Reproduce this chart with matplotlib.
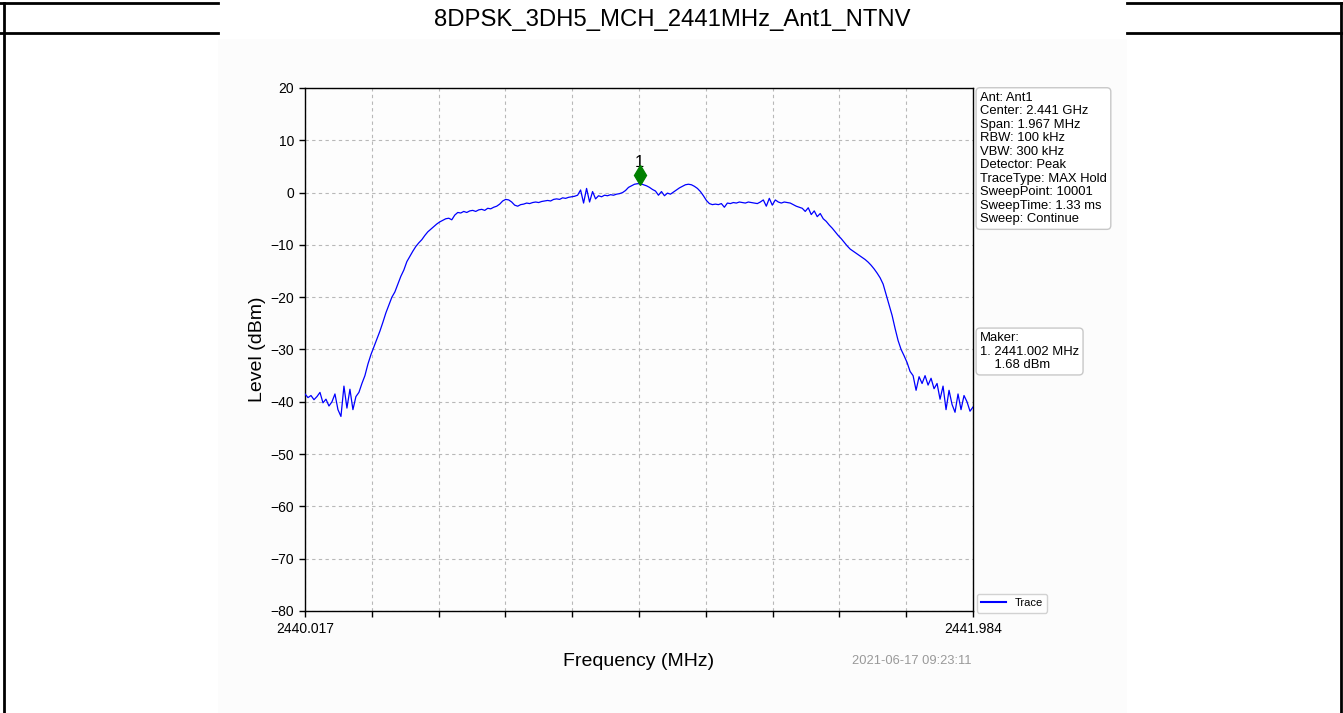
import numpy as np
import matplotlib
matplotlib.use("Agg")
import matplotlib.pyplot as plt
from matplotlib.lines import Line2D
from matplotlib.patches import Rectangle
import matplotlib.transforms as mtransforms

plt.rcParams['font.family'] = ['Liberation Sans', 'DejaVu Sans']

# ---------------- data ----------------
title = "8DPSK_3DH5_MCH_2441MHz_Ant1_NTNV"
f_start = 2440.017
f_stop = 2441.984
level_dbm = [
    -38.5, -39.2, -38.8, -39.6, -39.0, -38.2, -40.2, -39.5, -40.8, -40.0,
    -38.5, -41.5, -42.8, -37.0, -41.2, -37.6, -41.5, -39.0, -38.2, -36.5,
    -35.0, -32.8, -31.0, -29.5, -28.0, -26.5, -24.8, -23.0, -21.5, -20.0,
    -19.0, -17.5, -16.0, -14.8, -13.2, -12.2, -11.2, -10.3, -9.6, -9.0,
    -8.2, -7.5, -7.0, -6.5, -6.0, -5.6, -5.3, -5.0, -4.9, -5.2,
    -4.3, -3.8, -3.9, -3.6, -3.8, -3.5, -3.4, -3.6, -3.3, -3.2,
    -3.4, -3.0, -3.1, -2.8, -2.6, -2.2, -1.6, -1.3, -1.4, -1.8,
    -2.4, -2.6, -2.3, -2.2, -2.0, -2.1, -1.9, -1.8, -1.9, -1.7,
    -1.6, -1.5, -1.6, -1.3, -1.2, -1.3, -1.0, -1.1, -0.9, -0.8,
    -0.7, -0.5, 0.5, -2.0, 0.8, -1.8, 0.2, -1.2, -0.6, -0.8,
    -0.5, -0.6, -0.4, -0.5, -0.3, -0.2, 0.0, 0.4, 1.0, 1.3,
    1.6, 1.7, 1.7, 1.5, 1.3, 1.0, 0.6, 0.3, -0.5, 0.2,
    -0.6, -0.1, -0.3, 0.1, 0.5, 0.9, 1.2, 1.5, 1.6, 1.5,
    1.2, 0.8, 0.2, -0.6, -1.5, -2.1, -2.3, -2.2, -2.3, -2.1,
    -2.8, -2.0, -2.1, -1.9, -2.0, -1.8, -1.9, -2.0, -1.8, -1.9,
    -2.0, -2.1, -1.8, -1.4, -2.6, -1.1, -2.4, -1.4, -1.8, -2.0,
    -1.8, -1.9, -2.0, -2.3, -2.6, -2.8, -3.0, -3.6, -2.9, -4.2,
    -3.5, -4.6, -4.0, -5.0, -5.5, -6.2, -6.8, -7.5, -8.2, -8.8,
    -9.5, -10.2, -10.8, -11.2, -11.6, -12.0, -12.4, -12.8, -13.3, -13.9,
    -14.6, -15.4, -16.3, -17.5, -19.5, -21.5, -23.5, -26.0, -28.3, -30.0,
    -31.2, -32.5, -34.2, -35.0, -37.8, -35.2, -36.5, -35.0, -36.8, -35.5,
    -37.5, -36.5, -39.5, -37.0, -41.5, -37.8, -40.5, -42.0, -38.5, -41.5,
    -38.8, -40.0, -41.8, -41.0,
]
freq_mhz = np.linspace(f_start, f_stop, len(level_dbm))  # uniform sweep grid

marker_freq = 2441.002
marker_level = 1.68
info_lines = [
    "Ant: Ant1",
    "Center: 2.441 GHz",
    "Span: 1.967 MHz",
    "RBW: 100 kHz",
    "VBW: 300 kHz",
    "Detector: Peak",
    "TraceType: MAX Hold",
    "SweepPoint: 10001",
    "SweepTime: 1.33 ms",
    "Sweep: Continue",
]
maker_lines = ["Maker:", "1. 2441.002 MHz", "    1.68 dBm"]
timestamp = "2021-06-17 09:23:11"
y_ticks = list(range(-80, 21, 10))

# ---------------- figure ----------------
W, H = 1343, 713
fig = plt.figure(figsize=(W / 100, H / 100), dpi=100)
fig.patch.set_facecolor('white')

def fx(px):
    return px / W

def fy(py):
    return 1 - py / H

# inner chart image background
fig.add_artist(Rectangle((fx(218), 0), fx(1127) - fx(218), fy(39), transform=fig.transFigure,
                         facecolor='#fcfcfc', edgecolor='none', zorder=0))

# page table borders
lw = 2.0
for y in (3, 33):
    fig.add_artist(Line2D([0, fx(218)], [fy(y), fy(y)], transform=fig.transFigure, color='black', lw=lw))
    fig.add_artist(Line2D([fx(1127), 1], [fy(y), fy(y)], transform=fig.transFigure, color='black', lw=lw))
fig.add_artist(Line2D([fx(4), fx(4)], [0, fy(3)], transform=fig.transFigure, color='black', lw=lw))
fig.add_artist(Line2D([fx(1341), fx(1341)], [0, fy(3)], transform=fig.transFigure, color='black', lw=lw))

fig.text(fx(672), fy(20), title, ha='center', va='center', fontsize=17.2)

# axes
ax = fig.add_axes([fx(305), fy(611), fx(973) - fx(305), fy(88) - fy(611)])
ax.set_facecolor('#fdfdfd')
ax.plot(freq_mhz, level_dbm, color='#0000ff', lw=0.9, label='Trace', zorder=3)

ax.set_xlim(f_start, f_stop)
ax.set_ylim(-80, 20)
xt = np.linspace(f_start, f_stop, 11)
ax.set_xticks(xt)
ax.set_xticklabels([f"{f_start:.3f}"] + [""] * 9 + [f"{f_stop:.3f}"])
ax.set_yticks(y_ticks)
ax.set_yticklabels([str(v).replace('-', '\u2212') for v in y_ticks])
ax.tick_params(direction='out', length=4.5, width=1, labelsize=10, colors='black')
ax.grid(True, color='#b8b8b8', linestyle=(0, (3, 3)), linewidth=0.8)
for s in ax.spines.values():
    s.set_linewidth(1.0)
    s.set_color('black')

ax.set_xlabel("Frequency (MHz)", fontsize=14, labelpad=12)
ax.set_ylabel("Level (dBm)", fontsize=14, labelpad=3)

# marker
off = mtransforms.ScaledTranslation(0, 6 / 72, fig.dpi_scale_trans)
ax.plot([marker_freq], [marker_level], marker='d', color='#008000', markersize=10,
        transform=ax.transData + off, zorder=5, linestyle='none')
ax.annotate("1", (marker_freq, marker_level), xytext=(0, 15), textcoords='offset points',
            ha='center', va='center', fontsize=12)

# info boxes
box = dict(boxstyle='round,pad=0.3', facecolor='white', edgecolor='#c8c8c8', linewidth=1)
ax.text(1.0105, 0.993, "\n".join(info_lines), transform=ax.transAxes, ha='left', va='top',
        fontsize=9.4, linespacing=1.17, bbox=box)
ax.text(1.0105, 0.5335, "\n".join(maker_lines), transform=ax.transAxes, ha='left', va='top',
        fontsize=9.4, linespacing=1.17, bbox=box)

leg = ax.legend(loc='lower left', bbox_to_anchor=(1.006, -0.003), fontsize=8, frameon=True,
                borderaxespad=0, handlelength=2.2, fancybox=True)
leg.get_frame().set_edgecolor('#c8c8c8')
for h in leg.get_lines():
    h.set_linewidth(1.5)

fig.text(fx(972), fy(661), timestamp, ha='right', va='center', fontsize=9.3, color='#999999')

fig.savefig('out.png', dpi=100)
